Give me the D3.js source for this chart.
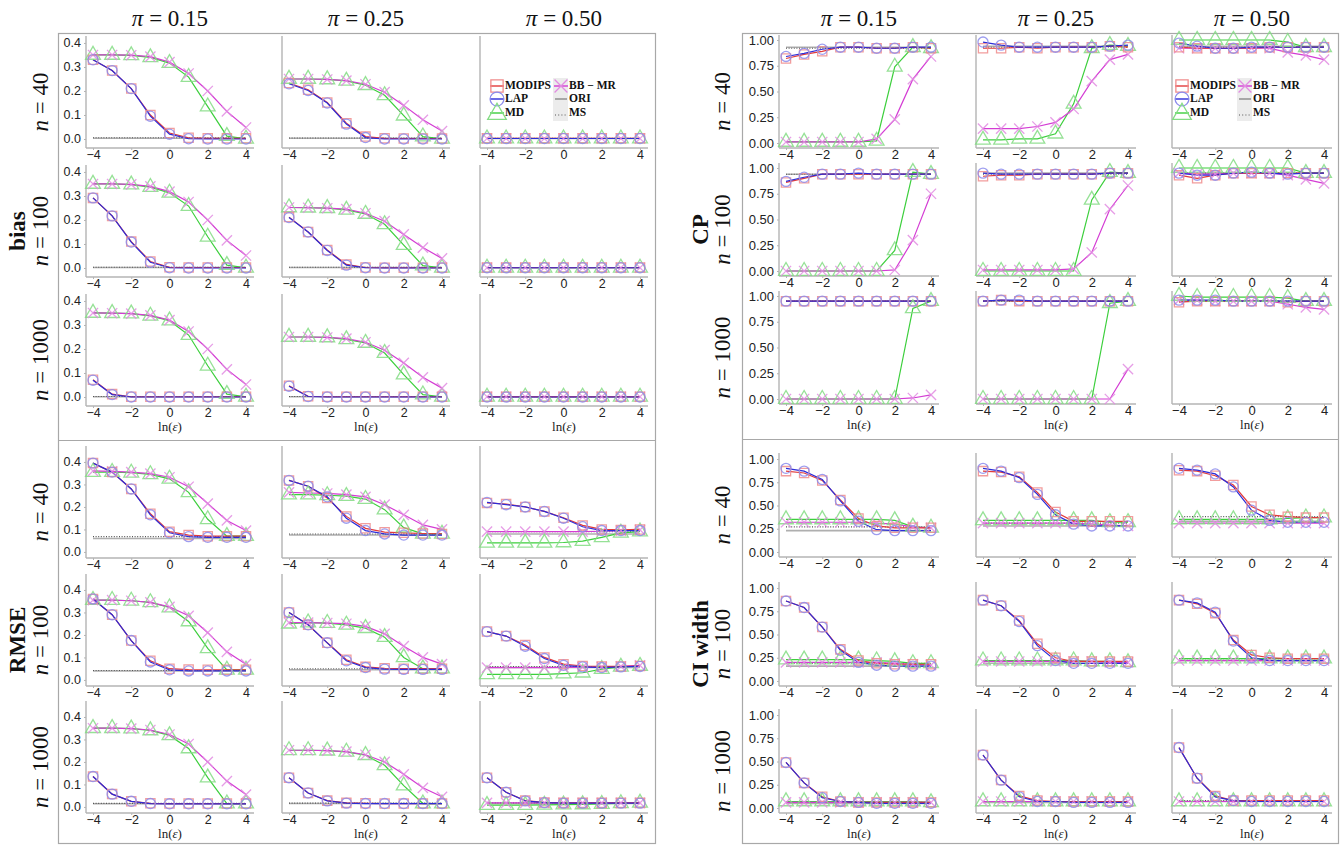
<!DOCTYPE html>
<html>
<head>
<meta charset="utf-8">
<script src="https://cdn.jsdelivr.net/npm/d3@7"></script>
<style>
  body { margin: 0; background: #fff; }
  svg { display: block; }
</style>
</head>
<body>
<svg id="chart" width="1342" height="846"></svg>
<script>
// x grid: ln(epsilon)
const xs = [-4, -3, -2, -1, 0, 1, 2, 3, 4];
const xTicks = [-4, -2, 0, 2, 4];
const piLabels = ['0.15', '0.25', '0.50'];
const nLabels = ['40', '100', '1000'];

// every metric: 9 panels, order = n(40,100,1000) x pi(0.15,0.25,0.50)
// ---- bias ----
const biasModips = [
  [0.330, 0.285, 0.210, 0.100, 0.025, 0.005, 0.003, 0.003, 0.003],
  [0.233, 0.205, 0.152, 0.066, 0.010, 0.003, 0.002, 0.002, 0.002],
  [0.003, 0.003, 0.003, 0.003, 0.003, 0.003, 0.003, 0.003, 0.003],
  [0.292, 0.217, 0.110, 0.027, 0.003, 0.002, 0.002, 0.002, 0.002],
  [0.212, 0.150, 0.075, 0.015, 0.002, 0.001, 0.001, 0.001, 0.001],
  [0.002, 0.002, 0.002, 0.002, 0.002, 0.002, 0.002, 0.002, 0.002],
  [0.072, 0.012, 0.001, 0.001, 0.001, 0.001, 0.001, 0.001, 0.001],
  [0.047, 0.003, 0.001, 0.001, 0.001, 0.001, 0.001, 0.001, 0.001],
  [0.001, 0.001, 0.001, 0.001, 0.001, 0.001, 0.001, 0.001, 0.001]
];
const biasLap = [
  [0.330, 0.285, 0.210, 0.095, 0.020, 0.001, 0.000, 0.000, 0.000],
  [0.230, 0.202, 0.150, 0.062, 0.006, 0.000, 0.000, 0.000, 0.000],
  [0.002, 0.002, 0.002, 0.002, 0.002, 0.002, 0.002, 0.002, 0.002],
  [0.292, 0.217, 0.108, 0.024, 0.001, 0.000, 0.000, 0.000, 0.000],
  [0.210, 0.150, 0.073, 0.012, 0.001, 0.000, 0.000, 0.000, 0.000],
  [0.001, 0.001, 0.001, 0.001, 0.001, 0.001, 0.001, 0.001, 0.001],
  [0.070, 0.010, 0.000, 0.000, 0.000, 0.000, 0.000, 0.000, 0.000],
  [0.045, 0.002, 0.000, 0.000, 0.000, 0.000, 0.000, 0.000, 0.000],
  [0.000, 0.000, 0.000, 0.000, 0.000, 0.000, 0.000, 0.000, 0.000]
];
const biasMd = [
  [0.350, 0.350, 0.348, 0.340, 0.316, 0.258, 0.135, 0.012, 0.001],
  [0.250, 0.250, 0.248, 0.242, 0.224, 0.182, 0.097, 0.010, 0.001],
  [0.002, 0.002, 0.002, 0.002, 0.002, 0.002, 0.002, 0.002, 0.002],
  [0.350, 0.350, 0.347, 0.337, 0.313, 0.258, 0.130, 0.012, 0.001],
  [0.252, 0.251, 0.249, 0.242, 0.225, 0.182, 0.095, 0.010, 0.001],
  [0.001, 0.001, 0.001, 0.001, 0.001, 0.001, 0.001, 0.001, 0.001],
  [0.350, 0.349, 0.347, 0.338, 0.318, 0.258, 0.130, 0.012, 0.001],
  [0.250, 0.250, 0.248, 0.240, 0.225, 0.183, 0.093, 0.010, 0.001],
  [0.001, 0.001, 0.001, 0.001, 0.001, 0.001, 0.001, 0.001, 0.001]
];
const biasBb = [
  [0.350, 0.350, 0.349, 0.343, 0.320, 0.273, 0.200, 0.115, 0.048],
  [0.250, 0.250, 0.248, 0.243, 0.228, 0.195, 0.140, 0.080, 0.033],
  [0.002, 0.002, 0.002, 0.002, 0.002, 0.002, 0.002, 0.002, 0.002],
  [0.350, 0.350, 0.348, 0.340, 0.318, 0.275, 0.200, 0.115, 0.052],
  [0.252, 0.251, 0.249, 0.245, 0.228, 0.195, 0.140, 0.085, 0.040],
  [0.001, 0.001, 0.001, 0.001, 0.001, 0.001, 0.001, 0.001, 0.001],
  [0.350, 0.349, 0.347, 0.340, 0.320, 0.273, 0.200, 0.115, 0.052],
  [0.250, 0.250, 0.248, 0.243, 0.228, 0.195, 0.142, 0.082, 0.037],
  [0.001, 0.001, 0.001, 0.001, 0.001, 0.001, 0.001, 0.001, 0.001]
];
const biasOri = [0.003, 0.003, 0.002, 0.002, 0.002, 0.001, 0.001, 0.001, 0.001];
const biasMs  = [0.005, 0.004, 0.003, 0.003, 0.003, 0.002, 0.002, 0.002, 0.001];

// ---- RMSE ----
const rmseModips = [
  [0.395, 0.355, 0.280, 0.170, 0.090, 0.075, 0.070, 0.070, 0.070],
  [0.318, 0.292, 0.240, 0.158, 0.105, 0.088, 0.085, 0.082, 0.080],
  [0.218, 0.213, 0.200, 0.180, 0.152, 0.118, 0.100, 0.098, 0.100],
  [0.360, 0.290, 0.175, 0.085, 0.050, 0.046, 0.045, 0.045, 0.045],
  [0.300, 0.245, 0.165, 0.090, 0.058, 0.052, 0.050, 0.050, 0.050],
  [0.215, 0.195, 0.155, 0.100, 0.070, 0.062, 0.060, 0.060, 0.062],
  [0.135, 0.057, 0.025, 0.016, 0.015, 0.015, 0.015, 0.015, 0.015],
  [0.130, 0.062, 0.028, 0.018, 0.016, 0.015, 0.015, 0.015, 0.015],
  [0.130, 0.065, 0.028, 0.020, 0.018, 0.018, 0.018, 0.018, 0.018]
];
const rmseLap = [
  [0.395, 0.355, 0.280, 0.165, 0.085, 0.068, 0.065, 0.065, 0.065],
  [0.318, 0.292, 0.245, 0.150, 0.095, 0.080, 0.075, 0.075, 0.075],
  [0.220, 0.210, 0.200, 0.180, 0.150, 0.112, 0.095, 0.095, 0.095],
  [0.360, 0.290, 0.175, 0.080, 0.045, 0.040, 0.040, 0.040, 0.040],
  [0.300, 0.245, 0.165, 0.085, 0.055, 0.048, 0.047, 0.047, 0.047],
  [0.215, 0.195, 0.150, 0.095, 0.065, 0.058, 0.055, 0.058, 0.060],
  [0.135, 0.057, 0.025, 0.015, 0.014, 0.014, 0.014, 0.014, 0.014],
  [0.130, 0.062, 0.027, 0.017, 0.015, 0.015, 0.015, 0.015, 0.015],
  [0.130, 0.065, 0.027, 0.019, 0.017, 0.017, 0.017, 0.017, 0.017]
];
const rmseMd = [
  [0.355, 0.355, 0.352, 0.345, 0.325, 0.265, 0.145, 0.070, 0.070],
  [0.255, 0.255, 0.252, 0.248, 0.235, 0.188, 0.108, 0.080, 0.080],
  [0.040, 0.040, 0.040, 0.040, 0.042, 0.048, 0.065, 0.085, 0.090],
  [0.355, 0.355, 0.352, 0.345, 0.322, 0.260, 0.140, 0.045, 0.045],
  [0.250, 0.255, 0.253, 0.245, 0.230, 0.190, 0.100, 0.050, 0.050],
  [0.025, 0.025, 0.025, 0.025, 0.028, 0.032, 0.048, 0.058, 0.062],
  [0.350, 0.350, 0.348, 0.340, 0.318, 0.260, 0.130, 0.015, 0.015],
  [0.252, 0.252, 0.250, 0.245, 0.230, 0.185, 0.095, 0.015, 0.015],
  [0.008, 0.008, 0.008, 0.009, 0.010, 0.011, 0.013, 0.016, 0.018]
];
const rmseBb = [
  [0.360, 0.358, 0.355, 0.348, 0.332, 0.290, 0.215, 0.140, 0.095],
  [0.265, 0.262, 0.260, 0.255, 0.245, 0.210, 0.165, 0.120, 0.100],
  [0.090, 0.090, 0.090, 0.090, 0.090, 0.090, 0.092, 0.095, 0.098],
  [0.355, 0.355, 0.352, 0.345, 0.325, 0.285, 0.210, 0.125, 0.070],
  [0.255, 0.255, 0.253, 0.250, 0.238, 0.205, 0.150, 0.100, 0.070],
  [0.055, 0.055, 0.055, 0.055, 0.056, 0.057, 0.058, 0.060, 0.065],
  [0.350, 0.350, 0.348, 0.342, 0.322, 0.280, 0.200, 0.115, 0.055],
  [0.252, 0.252, 0.250, 0.246, 0.232, 0.200, 0.145, 0.085, 0.045],
  [0.018, 0.018, 0.018, 0.018, 0.018, 0.018, 0.018, 0.018, 0.018]
];
const rmseOri = [0.060, 0.075, 0.080, 0.040, 0.045, 0.055, 0.014, 0.015, 0.016];
const rmseMs  = [0.068, 0.080, 0.090, 0.042, 0.050, 0.060, 0.016, 0.017, 0.018];

// ---- CP ----
const cpModips = [
  [0.82, 0.86, 0.89, 0.93, 0.93, 0.92, 0.92, 0.93, 0.92],
  [0.92, 0.92, 0.93, 0.92, 0.93, 0.93, 0.93, 0.94, 0.93],
  [0.93, 0.92, 0.92, 0.92, 0.92, 0.93, 0.93, 0.93, 0.93],
  [0.86, 0.90, 0.94, 0.94, 0.94, 0.94, 0.94, 0.94, 0.94],
  [0.92, 0.93, 0.93, 0.94, 0.94, 0.94, 0.94, 0.95, 0.95],
  [0.93, 0.90, 0.93, 0.95, 0.95, 0.95, 0.95, 0.95, 0.95],
  [0.95, 0.95, 0.95, 0.95, 0.95, 0.95, 0.95, 0.95, 0.95],
  [0.95, 0.96, 0.95, 0.95, 0.95, 0.95, 0.95, 0.95, 0.95],
  [0.94, 0.95, 0.95, 0.95, 0.95, 0.95, 0.94, 0.95, 0.95]
];
const cpLap = [
  [0.84, 0.87, 0.91, 0.93, 0.93, 0.92, 0.92, 0.93, 0.93],
  [0.98, 0.95, 0.93, 0.93, 0.93, 0.93, 0.93, 0.94, 0.95],
  [0.97, 0.94, 0.92, 0.92, 0.93, 0.93, 0.93, 0.93, 0.93],
  [0.87, 0.91, 0.94, 0.94, 0.95, 0.94, 0.94, 0.94, 0.94],
  [0.95, 0.94, 0.94, 0.94, 0.94, 0.94, 0.94, 0.95, 0.95],
  [0.95, 0.93, 0.93, 0.95, 0.96, 0.95, 0.94, 0.95, 0.95],
  [0.95, 0.95, 0.95, 0.95, 0.95, 0.95, 0.95, 0.95, 0.95],
  [0.95, 0.96, 0.96, 0.95, 0.95, 0.95, 0.95, 0.95, 0.95],
  [0.96, 0.96, 0.96, 0.95, 0.95, 0.95, 0.95, 0.95, 0.95]
];
const cpMd = [
  [0.01, 0.01, 0.01, 0.01, 0.01, 0.02, 0.74, 0.93, 0.92],
  [0.03, 0.03, 0.04, 0.04, 0.09, 0.38, 0.92, 0.95, 0.94],
  [1.00, 1.00, 1.00, 1.00, 1.00, 1.00, 0.98, 0.93, 0.93],
  [0.00, 0.00, 0.00, 0.00, 0.00, 0.00, 0.20, 0.96, 0.94],
  [0.00, 0.00, 0.00, 0.00, 0.00, 0.00, 0.69, 0.96, 0.95],
  [1.00, 1.00, 1.00, 1.00, 1.00, 1.00, 1.00, 0.95, 0.95],
  [0.00, 0.00, 0.00, 0.00, 0.00, 0.00, 0.00, 0.88, 0.95],
  [0.00, 0.00, 0.00, 0.00, 0.00, 0.00, 0.00, 0.93, 0.95],
  [1.00, 0.99, 0.99, 0.99, 0.99, 0.99, 0.98, 0.95, 0.95]
];
const cpBb = [
  [0.01, 0.01, 0.01, 0.01, 0.01, 0.04, 0.23, 0.62, 0.84],
  [0.14, 0.14, 0.14, 0.16, 0.20, 0.33, 0.60, 0.81, 0.86],
  [0.92, 0.92, 0.92, 0.92, 0.92, 0.92, 0.88, 0.85, 0.81],
  [0.00, 0.00, 0.00, 0.00, 0.00, 0.00, 0.01, 0.30, 0.75],
  [0.01, 0.01, 0.01, 0.01, 0.01, 0.02, 0.18, 0.60, 0.83],
  [0.95, 0.94, 0.94, 0.95, 0.95, 0.95, 0.93, 0.89, 0.85],
  [0.00, 0.00, 0.00, 0.00, 0.00, 0.00, 0.00, 0.01, 0.04],
  [0.00, 0.00, 0.00, 0.00, 0.00, 0.00, 0.00, 0.00, 0.29],
  [0.96, 0.96, 0.95, 0.95, 0.95, 0.95, 0.92, 0.89, 0.87]
];
const cpOri = [0.93, 0.94, 0.94, 0.94, 0.95, 0.95, 0.95, 0.95, 0.95];
const cpMs  = [0.92, 0.93, 0.93, 0.94, 0.94, 0.95, 0.95, 0.95, 0.95];

// ---- CI width ----
const ciModips = [
  [0.87, 0.85, 0.77, 0.56, 0.36, 0.28, 0.26, 0.26, 0.26],
  [0.87, 0.86, 0.81, 0.64, 0.43, 0.33, 0.33, 0.33, 0.33],
  [0.88, 0.87, 0.82, 0.72, 0.49, 0.40, 0.38, 0.37, 0.37],
  [0.86, 0.79, 0.58, 0.34, 0.22, 0.19, 0.18, 0.18, 0.18],
  [0.87, 0.81, 0.65, 0.40, 0.25, 0.21, 0.21, 0.21, 0.21],
  [0.87, 0.83, 0.73, 0.44, 0.28, 0.25, 0.24, 0.24, 0.24],
  [0.49, 0.27, 0.12, 0.07, 0.06, 0.06, 0.06, 0.06, 0.06],
  [0.57, 0.30, 0.13, 0.08, 0.07, 0.07, 0.07, 0.07, 0.07],
  [0.65, 0.32, 0.13, 0.08, 0.08, 0.08, 0.08, 0.08, 0.08]
];
const ciLap = [
  [0.90, 0.87, 0.78, 0.55, 0.33, 0.24, 0.23, 0.23, 0.23],
  [0.90, 0.87, 0.80, 0.62, 0.40, 0.30, 0.28, 0.28, 0.28],
  [0.90, 0.88, 0.84, 0.70, 0.45, 0.34, 0.32, 0.32, 0.32],
  [0.86, 0.79, 0.58, 0.33, 0.20, 0.17, 0.16, 0.16, 0.16],
  [0.87, 0.81, 0.64, 0.38, 0.22, 0.19, 0.19, 0.19, 0.19],
  [0.87, 0.84, 0.74, 0.43, 0.25, 0.22, 0.22, 0.22, 0.22],
  [0.49, 0.27, 0.11, 0.07, 0.06, 0.05, 0.05, 0.05, 0.05],
  [0.57, 0.30, 0.12, 0.07, 0.07, 0.06, 0.06, 0.06, 0.06],
  [0.65, 0.32, 0.12, 0.08, 0.07, 0.07, 0.07, 0.07, 0.07]
];
const ciMd = [
  [0.35, 0.35, 0.35, 0.35, 0.35, 0.35, 0.34, 0.27, 0.26],
  [0.34, 0.34, 0.34, 0.34, 0.34, 0.34, 0.34, 0.32, 0.32],
  [0.35, 0.35, 0.35, 0.35, 0.35, 0.35, 0.36, 0.37, 0.37],
  [0.23, 0.23, 0.23, 0.23, 0.23, 0.22, 0.21, 0.19, 0.19],
  [0.22, 0.22, 0.22, 0.22, 0.22, 0.22, 0.21, 0.21, 0.20],
  [0.24, 0.24, 0.24, 0.24, 0.24, 0.24, 0.24, 0.24, 0.24],
  [0.07, 0.07, 0.07, 0.07, 0.07, 0.07, 0.07, 0.07, 0.06],
  [0.07, 0.07, 0.07, 0.07, 0.07, 0.07, 0.07, 0.07, 0.07],
  [0.07, 0.07, 0.07, 0.07, 0.07, 0.07, 0.07, 0.07, 0.07]
];
const ciBb = [
  [0.32, 0.32, 0.32, 0.32, 0.32, 0.31, 0.30, 0.27, 0.26],
  [0.31, 0.31, 0.31, 0.31, 0.31, 0.31, 0.30, 0.29, 0.28],
  [0.31, 0.31, 0.31, 0.31, 0.31, 0.31, 0.31, 0.31, 0.31],
  [0.20, 0.20, 0.20, 0.20, 0.20, 0.20, 0.19, 0.18, 0.17],
  [0.21, 0.21, 0.21, 0.21, 0.21, 0.21, 0.21, 0.20, 0.20],
  [0.22, 0.22, 0.22, 0.22, 0.22, 0.22, 0.22, 0.22, 0.22],
  [0.06, 0.06, 0.06, 0.06, 0.06, 0.06, 0.06, 0.06, 0.06],
  [0.07, 0.07, 0.07, 0.07, 0.07, 0.07, 0.07, 0.07, 0.07],
  [0.07, 0.07, 0.07, 0.07, 0.07, 0.07, 0.07, 0.07, 0.07]
];
const ciOri = [0.23, 0.28, 0.33, 0.16, 0.19, 0.22, 0.05, 0.06, 0.07];
const ciMs  = [0.27, 0.31, 0.38, 0.19, 0.21, 0.24, 0.06, 0.07, 0.08];

// ---------- layout ----------
const W = 1342, H = 846;
const SANS  = '"Liberation Sans", Arial, sans-serif';
const SERIF = '"Liberation Serif", "Times New Roman", serif';

const leftCols  = [86, 282, 480];   // x of each panel's y-axis line
const rightCols = [779, 976, 1172];

const blocks = [
  { label: 'bias',     cols: leftCols,  w: 168, tops: [36, 165, 294],  h: 112, domain: [-0.0375, 0.429], ticks: [0, 0.1, 0.2, 0.3, 0.4],
    fmt: d3.format('.1f'), md: biasMd, bb: biasBb, modips: biasModips, lap: biasLap, ori: biasOri, ms: biasMs,
    labelX: 20, nX: 43, legend: true, tickFont: 12.5 },
  { label: 'RMSE',     cols: leftCols,  w: 168, tops: [446, 574, 701], h: 112, domain: [-0.027, 0.471], ticks: [0, 0.1, 0.2, 0.3, 0.4],
    fmt: d3.format('.1f'), md: rmseMd, bb: rmseBb, modips: rmseModips, lap: rmseLap, ori: rmseOri, ms: rmseMs,
    labelX: 20, nX: 43, legend: false, tickFont: 12.5 },
  { label: 'CP',       cols: rightCols, w: 160, tops: [35, 163, 291],  h: 113, domain: [-0.0485, 1.0485], ticks: [0, 0.25, 0.5, 0.75, 1],
    fmt: d3.format('.2f'), md: cpMd, bb: cpBb, modips: cpModips, lap: cpLap, ori: cpOri, ms: cpMs,
    labelX: 703, nX: 725, legend: true, tickFont: 13 },
  { label: 'CI width', cols: rightCols, w: 160, tops: [453, 582, 709], h: 104, domain: [-0.054, 1.065], ticks: [0, 0.25, 0.5, 0.75, 1],
    fmt: d3.format('.2f'), md: ciMd, bb: ciBb, modips: ciModips, lap: ciLap, ori: ciOri, ms: ciMs,
    labelX: 703, nX: 725, legend: false, tickFont: 13 }
];

const seriesStyle = {
  MD:     { line: '#3ccf3c', mark: '#84dc84', symbol: d3.symbolTriangle, size: 95 },
  BB:     { line: '#d43cd4', mark: '#e28ce2', symbol: d3.symbolTimes,    size: 70 },
  MODIPS: { line: '#e23a3a', mark: '#f08c8c', symbol: d3.symbolSquare,   size: 85 },
  LAP:    { line: '#2c2cd8', mark: '#8c8cec', symbol: d3.symbolCircle,   size: 80 }
};
const AXIS = '#b4b4b4';

const svg = d3.select('#chart');
svg.append('rect').attr('width', W).attr('height', H).attr('fill', '#fff');

// outer frames
[[58, 655, 440], [742, 1338, 439]].forEach(([x0, x1, mid]) => {
  svg.append('rect')
    .attr('x', x0 + 0.5).attr('y', 33.5)
    .attr('width', x1 - x0).attr('height', 810)
    .attr('fill', 'none').attr('stroke', '#a8a8a8').attr('stroke-width', 1.2);
  svg.append('line')
    .attr('x1', x0).attr('x2', x1).attr('y1', mid + 0.5).attr('y2', mid + 0.5)
    .attr('stroke', '#a8a8a8').attr('stroke-width', 1.2);
});

// column headers
[leftCols, rightCols].forEach((cols, k) => {
  const w = k === 0 ? 168 : 160;
  cols.forEach((cx, c) => {
    const t = svg.append('text')
      .attr('x', cx + w / 2).attr('y', 26)
      .attr('text-anchor', 'middle')
      .attr('font-family', SERIF).attr('font-size', 23).attr('fill', '#111');
    t.append('tspan').attr('font-style', 'italic').text('π');
    t.append('tspan').text(' = ' + piLabels[c]);
  });
});

function lnLabel(g, x, y) {
  const t = g.append('text')
    .attr('x', x).attr('y', y)
    .attr('text-anchor', 'middle').attr('dominant-baseline', 'middle')
    .attr('font-family', SERIF).attr('font-size', 13).attr('fill', '#222');
  t.append('tspan').text('ln(');
  t.append('tspan').attr('font-style', 'italic').text('ε');
  t.append('tspan').text(')');
}

function drawPanel(g, b, row, col) {
  const i = row * 3 + col;
  const x0 = b.cols[col], top = b.tops[row], bot = top + b.h;
  const x = d3.scaleLinear().domain([-4, 4]).range([x0 + 7, x0 + b.w - 8]);
  const y = d3.scaleLinear().domain(b.domain).range([bot, top]);

  // axis lines
  g.append('line').attr('x1', x0).attr('x2', x0 + b.w).attr('y1', bot).attr('y2', bot)
    .attr('stroke', AXIS).attr('stroke-width', 1.4);
  g.append('line').attr('x1', x0).attr('x2', x0).attr('y1', top).attr('y2', bot)
    .attr('stroke', AXIS).attr('stroke-width', 1.4);

  const xa = g.append('g').attr('transform', `translate(0,${bot})`)
    .call(d3.axisBottom(x).tickValues(xTicks).tickFormat(d3.format('d')).tickSize(2).tickPadding(0));
  xa.select('.domain').remove();
  xa.selectAll('line').attr('stroke', AXIS);
  xa.selectAll('text').attr('font-family', SANS).attr('font-size', b.tickFont).attr('fill', '#222');

  if (col === 0) {
    const ya = g.append('g').attr('transform', `translate(${x0},0)`)
      .call(d3.axisLeft(y).tickValues(b.ticks).tickFormat(b.fmt).tickSize(2).tickPadding(3));
    ya.select('.domain').remove();
    ya.selectAll('line').attr('stroke', AXIS);
    ya.selectAll('text').attr('font-family', SANS).attr('font-size', b.tickFont).attr('fill', '#222');
  }

  // reference lines ORI (solid) and MS (dotted)
  g.append('line').attr('x1', x(-4)).attr('x2', x(4)).attr('y1', y(b.ori[i])).attr('y2', y(b.ori[i]))
    .attr('stroke', '#9c9c9c').attr('stroke-width', 1.6).attr('opacity', 0.8);
  g.append('line').attr('x1', x(-4)).attr('x2', x(4)).attr('y1', y(b.ms[i])).attr('y2', y(b.ms[i]))
    .attr('stroke', '#555').attr('stroke-width', 1.1).attr('stroke-dasharray', '1,1.6');

  const line = d3.line().x((d, j) => x(xs[j])).y(d => y(d));
  const order = [['MD', b.md], ['BB', b.bb], ['MODIPS', b.modips], ['LAP', b.lap]];
  order.forEach(([k, arr]) => {
    g.append('path').datum(arr[i]).attr('d', line)
      .attr('fill', 'none').attr('stroke', seriesStyle[k].line).attr('stroke-width', 1.2);
  });
  order.forEach(([k, arr]) => {
    const s = seriesStyle[k];
    const sym = d3.symbol().type(s.symbol).size(s.size);
    g.append('g').selectAll('path').data(arr[i]).join('path')
      .attr('transform', (d, j) => `translate(${x(xs[j])},${y(d)})`)
      .attr('d', sym)
      .attr('fill', 'none').attr('stroke', s.mark).attr('stroke-width', 1.3).attr('opacity', 0.85);
  });

  // ln(eps) under the bottom row
  if (row === 2) lnLabel(g, x0 + b.w / 2, bot + 21.5);
}

function drawLegend(g, kx1, kx2, ys) {
  const txt = (x, y, s) => g.append('text').attr('x', x).attr('y', y)
    .attr('dominant-baseline', 'middle').attr('font-family', SERIF)
    .attr('font-weight', 'bold').attr('font-size', 11.5).attr('fill', '#111').text(s);
  // grey key background for right column
  g.append('rect').attr('x', kx2 - 8).attr('y', ys[0] - 8).attr('width', 15).attr('height', ys[2] - ys[0] + 16)
    .attr('fill', '#ececec');
  const keys = [['MODIPS', 'MODIPS'], ['LAP', 'LAP'], ['MD', 'MD']];
  keys.forEach(([k, label], r) => {
    const s = seriesStyle[k];
    const cy = ys[r];
    g.append('line').attr('x1', kx1 - 7).attr('x2', kx1 + 7).attr('y1', cy).attr('y2', cy)
      .attr('stroke', s.line).attr('stroke-width', 1.4);
    g.append('path').attr('transform', `translate(${kx1},${cy + (k === 'MD' ? 1 : 0)})`)
      .attr('d', d3.symbol().type(s.symbol).size(150))
      .attr('fill', 'none').attr('stroke', s.mark).attr('stroke-width', 1.3);
    txt(kx1 + 8, cy, label);
  });
  // BB - MR
  const bb = seriesStyle.BB;
  g.append('line').attr('x1', kx2 - 7).attr('x2', kx2 + 7).attr('y1', ys[0]).attr('y2', ys[0])
    .attr('stroke', bb.line).attr('stroke-width', 1.4);
  g.append('path').attr('transform', `translate(${kx2},${ys[0]})`)
    .attr('d', d3.symbol().type(bb.symbol).size(110))
    .attr('fill', 'none').attr('stroke', bb.mark).attr('stroke-width', 1.3);
  txt(kx2 + 8, ys[0], 'BB − MR');
  // ORI
  g.append('line').attr('x1', kx2 - 6).attr('x2', kx2 + 6).attr('y1', ys[1]).attr('y2', ys[1])
    .attr('stroke', '#8a8a8a').attr('stroke-width', 1.4);
  txt(kx2 + 8, ys[1], 'ORI');
  // MS
  g.append('line').attr('x1', kx2 - 6).attr('x2', kx2 + 6).attr('y1', ys[2] + 2).attr('y2', ys[2] + 2)
    .attr('stroke', '#555').attr('stroke-width', 1.2).attr('stroke-dasharray', '1,2.2');
  txt(kx2 + 8, ys[2], 'MS');
}

blocks.forEach(b => {
  const g = svg.append('g');
  for (let r = 0; r < 3; r++) for (let c = 0; c < 3; c++) drawPanel(g, b, r, c);

  // row labels
  b.tops.forEach((top, r) => {
    const cy = top + b.h / 2 + 10;
    const t = g.append('text')
      .attr('transform', `translate(${b.nX},${cy}) rotate(-90)`)
      .attr('text-anchor', 'middle').attr('dominant-baseline', 'middle')
      .attr('font-family', SERIF).attr('font-size', 23).attr('fill', '#111');
    t.append('tspan').attr('font-style', 'italic').text('n');
    t.append('tspan').text(' = ' + nLabels[r]);
  });
  const midRow = b.tops[1] + b.h / 2 + 10;
  g.append('text')
    .attr('transform', `translate(${b.labelX},${midRow}) rotate(-90)`)
    .attr('text-anchor', 'middle').attr('dominant-baseline', 'middle')
    .attr('font-family', SERIF).attr('font-weight', 'bold').attr('font-size', 23).attr('fill', '#111')
    .text(b.label);

  if (b.legend) {
    const k1 = b.cols === leftCols ? 497 : 1182;
    const k2 = b.cols === leftCols ? 561 : 1245;
    drawLegend(g, k1, k2, [86, 99, 113]);
  }
});
</script>
</body>
</html>
